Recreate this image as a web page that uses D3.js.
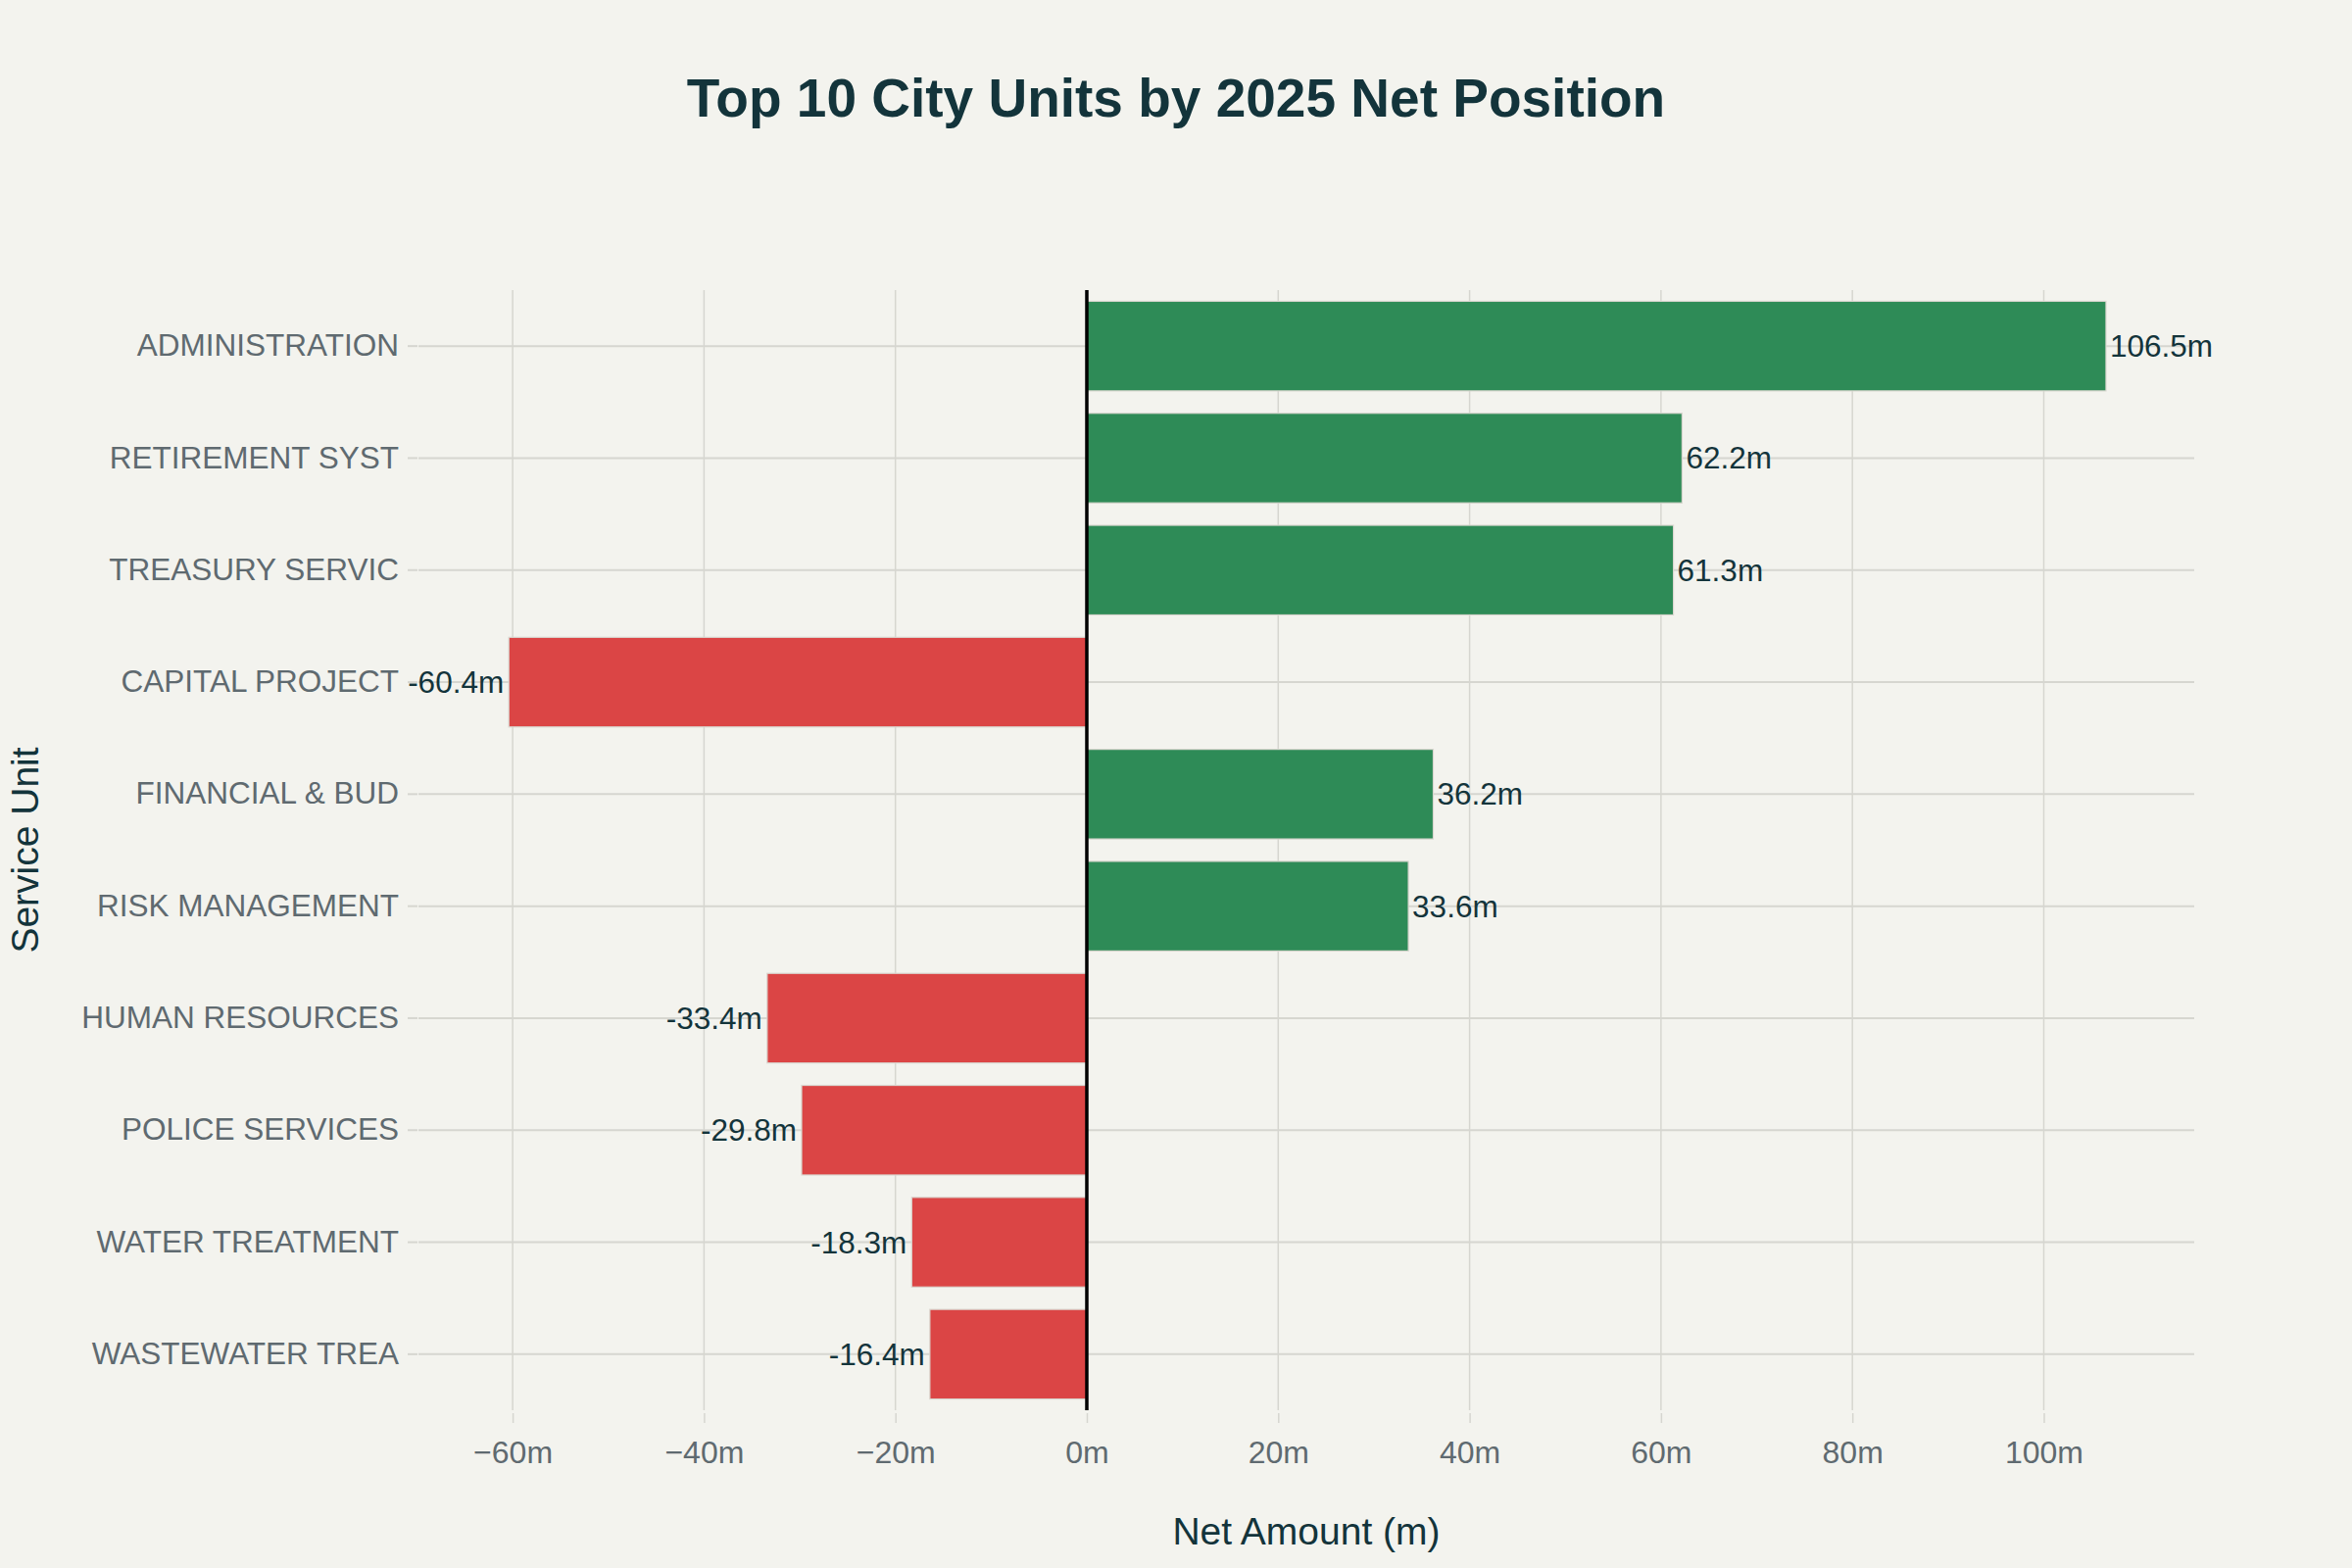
<!DOCTYPE html>
<html>
<head>
<meta charset="utf-8">
<script src="https://cdn.jsdelivr.net/npm/d3@7/dist/d3.min.js"></script>
<style>
  html, body { margin: 0; padding: 0; background: #f3f3ee; }
  svg { display: block; }
</style>
</head>
<body>
<svg id="chart" width="2400" height="1600"></svg>
<script>
const categories = ["ADMINISTRATION", "RETIREMENT SYST", "TREASURY SERVIC", "CAPITAL PROJECT", "FINANCIAL & BUD", "RISK MANAGEMENT", "HUMAN RESOURCES", "POLICE SERVICES", "WATER TREATMENT", "WASTEWATER TREA"];
const values = [106.5, 62.2, 61.3, -60.4, 36.2, 33.6, -33.4, -29.8, -18.3, -16.4];
const xTicks = [-60, -40, -20, 0, 20, 40, 60, 80, 100];
const titleText = "Top 10 City Units by 2025 Net Position";
const xTitle = "Net Amount (m)";
const yTitle = "Service Unit";

const W = 2400, H = 1600;
const margin = { left: 427, right: W - 2239, top: 296, bottom: H - 1439 };
const font = "'Liberation Sans', Arial, sans-serif";
const dark = "#13343b";
const grey = "#5f6a70";
const green = "#2e8b57";
const red = "#db4545";

const svg = d3.select("#chart");
svg.append("rect").attr("width", W).attr("height", H).attr("fill", "#f3f3ee");

const x = d3.scaleLinear().domain([-69.84, 115.72]).range([margin.left, W - margin.right]);
const y = d3.scaleBand().domain(categories).range([margin.top, H - margin.bottom]).paddingInner(0.2).paddingOuter(0.1);

// vertical grid
svg.append("g").selectAll("line").data(xTicks).join("line")
  .attr("x1", d => x(d)).attr("x2", d => x(d))
  .attr("y1", margin.top).attr("y2", H - margin.bottom)
  .attr("stroke", "#d6d6d0").attr("stroke-width", 1.5);

// horizontal grid
svg.append("g").selectAll("line").data(categories).join("line")
  .attr("x1", margin.left).attr("x2", W - margin.right)
  .attr("y1", d => y(d) + y.bandwidth() / 2).attr("y2", d => y(d) + y.bandwidth() / 2)
  .attr("stroke", "#d6d6d0").attr("stroke-width", 2);

// x axis
const xAxis = d3.axisBottom(x).tickValues(xTicks).tickSize(10).tickPadding(18)
  .tickFormat(d => d3.format("")(d) + "m");
const gx = svg.append("g").attr("transform", `translate(0,${H - margin.bottom + 3})`).call(xAxis);
gx.select(".domain").remove();
gx.selectAll(".tick line").attr("stroke", "#d6d6d0").attr("stroke-width", 1.5);
gx.selectAll(".tick text").attr("fill", grey).attr("font-family", font).attr("font-size", 32);

// y axis
const yAxis = d3.axisLeft(y).tickSize(10).tickPadding(9);
const gy = svg.append("g").attr("transform", `translate(${margin.left - 1},0)`).call(yAxis);
gy.select(".domain").remove();
gy.selectAll(".tick line").attr("stroke", "#d6d6d0").attr("stroke-width", 2);
gy.selectAll(".tick text").attr("fill", grey).attr("font-family", font).attr("font-size", 31.5);

// bars
svg.append("g").selectAll("rect").data(values).join("rect")
  .attr("x", d => x(Math.min(0, d)))
  .attr("y", (d, i) => y(categories[i]))
  .attr("width", d => Math.abs(x(d) - x(0)))
  .attr("height", y.bandwidth())
  .attr("fill", d => d >= 0 ? green : red)
  .attr("stroke", "#d9d6cf").attr("stroke-width", 1.2);

// zero line
svg.append("line")
  .attr("x1", x(0)).attr("x2", x(0))
  .attr("y1", margin.top).attr("y2", H - margin.bottom)
  .attr("stroke", "#000").attr("stroke-width", 3.5);

// bar labels
svg.append("g").selectAll("text").data(values).join("text")
  .attr("x", d => d >= 0 ? x(d) + 4 : x(d) - 5)
  .attr("y", (d, i) => y(categories[i]) + y.bandwidth() / 2)
  .attr("dy", "0.35em")
  .attr("text-anchor", d => d >= 0 ? "start" : "end")
  .attr("fill", dark).attr("font-family", font).attr("font-size", 31.5)
  .text(d => d.toFixed(1) + "m");

// title
svg.append("text").attr("x", 1200).attr("y", 119).attr("text-anchor", "middle")
  .attr("fill", dark).attr("font-family", font).attr("font-weight", "bold").attr("font-size", 55)
  .text(titleText);

// axis titles
svg.append("text").attr("x", (margin.left + W - margin.right) / 2).attr("y", 1576).attr("text-anchor", "middle")
  .attr("fill", dark).attr("font-family", font).attr("font-size", 39)
  .text(xTitle);
svg.append("text").attr("transform", `translate(39,${(margin.top + H - margin.bottom) / 2}) rotate(-90)`)
  .attr("text-anchor", "middle")
  .attr("fill", dark).attr("font-family", font).attr("font-size", 39)
  .text(yTitle);
</script>
</body>
</html>
